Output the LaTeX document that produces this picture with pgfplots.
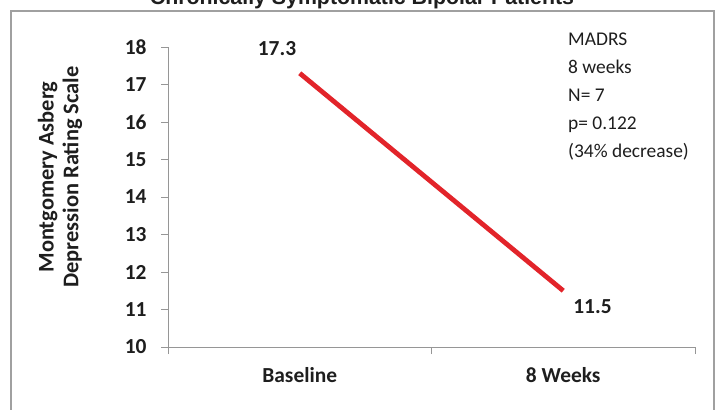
\documentclass[border=0pt]{standalone}
\usepackage{fontspec}
\setmainfont{Carlito}
\newfontfamily\titlefont{Liberation Sans}
\usepackage{pgfplots}
\pgfplotsset{compat=1.18}
\definecolor{linered}{RGB}{226,36,42}
\definecolor{axisgray}{RGB}{150,150,150}
\definecolor{framegray}{RGB}{160,160,160}
\definecolor{txt}{RGB}{30,30,30}
\begin{document}
\begin{tikzpicture}
\begin{axis}[
  at={(0,0)}, anchor=south west,
  scale only axis, width=527bp, height=300bp,
  xmin=0, xmax=2, ymin=10, ymax=18,
  axis x line*=bottom, axis y line*=left,
  axis line style={axisgray, line width=0.9bp},
  xtick={0,1,2}, xticklabels={Baseline,8 Weeks}, x tick label as interval,
  ytick={10,11,...,18},
  tick align=outside, major tick length=7bp,
  tick style={axisgray, line width=0.9bp},
  ticklabel style={font=\fontsize{21.5}{24}\selectfont\bfseries, text=txt},
  yticklabel style={xshift=-11bp},
  xticklabel style={yshift=-10bp},
  /pgf/number format/assume math mode=true,
  clip=false,
]
\addplot[linered, line width=4.8bp] coordinates {(0.5,17.3) (1.5,11.5)};
\end{axis}
% data labels
\node[anchor=base, font=\fontsize{21.5}{24}\selectfont\bfseries, text=txt] at (109bp,291bp) {17.3};
\node[anchor=base, font=\fontsize{21.5}{24}\selectfont\bfseries, text=txt] at (424.5bp,34bp) {11.5};
% y label
\node[rotate=90, align=center, font=\fontsize{22.5}{25}\selectfont\bfseries, text=txt] at (-108bp,170bp) {Montgomery Asberg\\Depression Rating Scale};
% annotation
\foreach \t/\yy in {MADRS/301, 8 weeks/273, N= 7/245, p= 0.122/217, (34\% decrease)/189}
  \node[anchor=base west, inner sep=0pt, font=\fontsize{19.5}{24}\selectfont, text=txt] at (400bp,\yy bp) {\t};
% frame and title
\draw[framegray, line width=1.3bp] (-157bp,-80bp) -- (-157bp,336bp) -- (546bp,336bp) -- (546bp,-80bp);
\node[anchor=base, inner sep=0pt, font=\titlefont\fontsize{21.4}{24}\selectfont\bfseries, text=txt] at (194bp,342bp) {Chronically Symptomatic Bipolar Patients};
\pgfresetboundingbox
\path[use as bounding box] (-168bp,-63bp) rectangle (548bp,347bp);
\end{tikzpicture}
\end{document}
